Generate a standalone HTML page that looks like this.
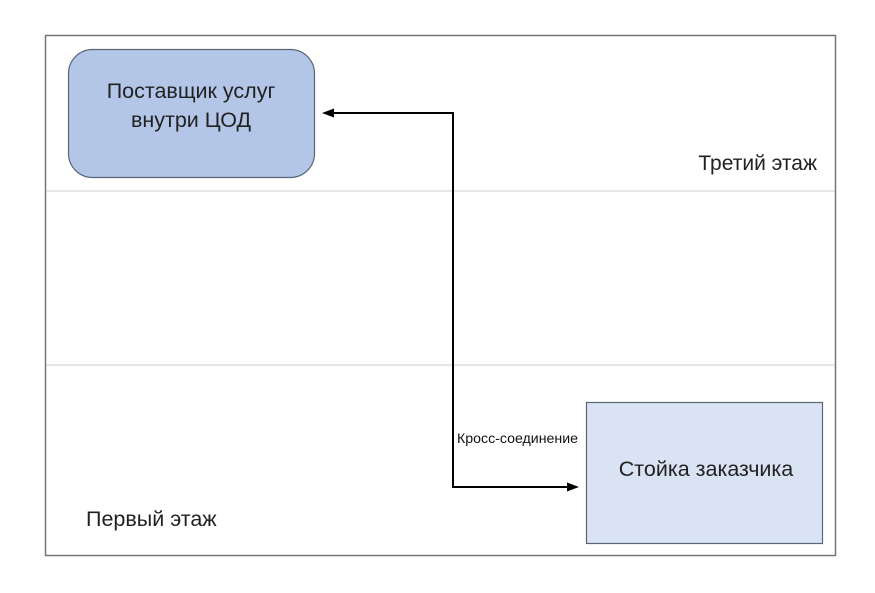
<!DOCTYPE html>
<html><head><meta charset="utf-8"><style>
body{margin:0;width:875px;height:588px;background:#fff;overflow:hidden;font-family:"Liberation Sans","DejaVu Sans",sans-serif;}
</style></head><body>
<svg width="875" height="588" xmlns="http://www.w3.org/2000/svg" font-family="Liberation Sans, DejaVu Sans, sans-serif">
<rect x="45.5" y="35.5" width="790" height="520" fill="#fff" stroke="#777" stroke-width="1.5"/>
<line x1="46" y1="191" x2="835" y2="191" stroke="#c8d0d0" stroke-width="1"/>
<line x1="46" y1="365" x2="835" y2="365" stroke="#c8d0d0" stroke-width="1"/>
<rect x="68.5" y="49.5" width="246" height="128" rx="24" fill="#b3c6e7" stroke="#5a6578" stroke-width="1.2"/>
<text x="191" y="98" font-size="21.5" text-anchor="middle" fill="#222">Поставщик услуг</text>
<text x="191" y="127" font-size="21.5" text-anchor="middle" fill="#222">внутри ЦОД</text>
<rect x="586.5" y="402.5" width="236" height="141" fill="#dae3f3" stroke="#5a6578" stroke-width="1.2"/>
<text x="706" y="476" font-size="21.5" text-anchor="middle" fill="#222">Стойка заказчика</text>
<text x="817" y="170" font-size="21" text-anchor="end" fill="#222">Третий этаж</text>
<text x="86" y="526" font-size="21.5" fill="#222">Первый этаж</text>
<polyline points="333,113 453,113 453,487 568,487" fill="none" stroke="#000" stroke-width="2"/>
<polygon points="322,113 334,108.5 334,117.5" fill="#000"/>
<polygon points="579,487 567,482.5 567,491.5" fill="#000"/>
<text x="457" y="443" font-size="14" textLength="121" lengthAdjust="spacingAndGlyphs" fill="#111">Кросс-соединение</text>
</svg>
</body></html>
